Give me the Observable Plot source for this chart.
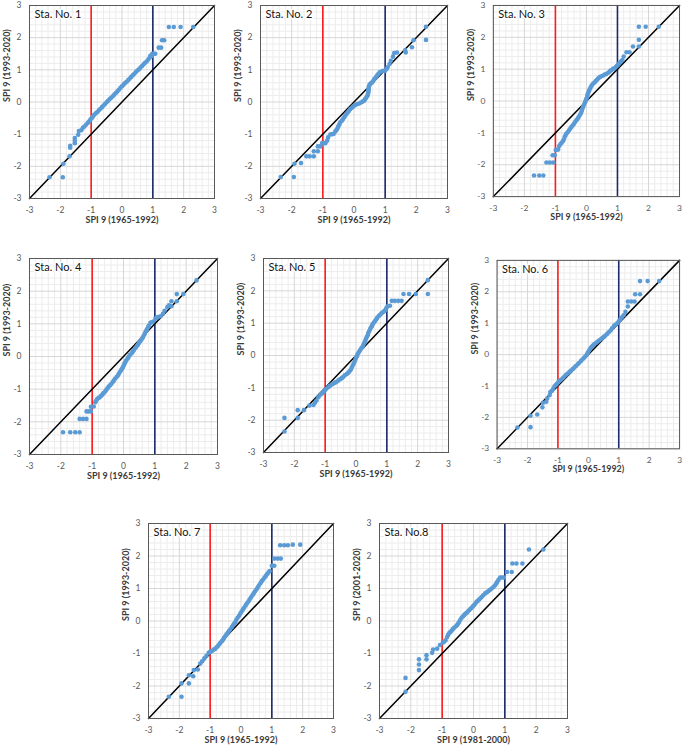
<!DOCTYPE html>
<html>
<head>
<meta charset="utf-8">
<script src="https://cdn.jsdelivr.net/npm/d3@7"></script>
<script src="https://cdn.jsdelivr.net/npm/@observablehq/plot@0.6"></script>
<style>
  html, body { margin: 0; padding: 0; background: #fff; }
  #page { position: relative; width: 685px; height: 748px; overflow: hidden; background: #fff; }
  .panel { position: absolute; }
</style>
</head>
<body>
<div id="page"></div>
<script>
// ---------- data ----------
const titles = ["Sta. No. 1", "Sta. No. 2", "Sta. No. 3", "Sta. No. 4", "Sta. No. 5", "Sta. No. 6", "Sta. No. 7", "Sta.\u00a0No.8"];
const xLabels = ["SPI 9 (1965-1992)", "SPI 9 (1965-1992)", "SPI 9 (1965-1992)", "SPI 9 (1965-1992)", "SPI 9 (1965-1992)", "SPI 9 (1965-1992)", "SPI 9 (1965-1992)", "SPI 9 (1981-2000)"];
const yLabels = ["SPI 9 (1993-2020)", "SPI 9 (1993-2020)", "SPI 9 (1993-2020)", "SPI 9 (1993-2020)", "SPI 9 (1993-2020)", "SPI 9 (1993-2020)", "SPI 9 (1993-2020)", "SPI 9 (2001-2020)"];
const majorTicks = [-3, -2, -1, 0, 1, 2, 3];
const minorTicks = [-2.8, -2.6, -2.4, -2.2, -1.8, -1.6, -1.4, -1.2, -0.8, -0.6, -0.4, -0.2, 0.2, 0.4, 0.6, 0.8, 1.2, 1.4, 1.6, 1.8, 2.2, 2.4, 2.6, 2.8];
const lowLine = [-1];
const highLine = [1];
const diagonal = [-3, 3];

const sta1 = [[-2.35,-2.34],[-1.92,-2.34],[-1.90,-1.92],[-1.70,-1.69],[-1.68,-1.42],[-1.68,-1.36],[-1.53,-1.28],[-1.53,-1.20],[-1.53,-1.12],[-1.42,-1.02],[-1.40,-0.90],[-1.32,-0.88],[-1.27,-0.80],[-1.22,-0.76],[-1.16,-0.70],[-1.10,-0.64],[-1.06,-0.60],[-1.02,-0.54],[-0.98,-0.50],[-0.95,-0.46],[-0.90,-0.40],[-0.85,-0.35],[-0.80,-0.31],[-0.75,-0.26],[-0.70,-0.21],[-0.65,-0.16],[-0.60,-0.11],[-0.55,-0.06],[-0.50,-0.01],[-0.45,0.04],[-0.40,0.09],[-0.35,0.13],[-0.30,0.18],[-0.25,0.23],[-0.20,0.28],[-0.15,0.33],[-0.10,0.38],[-0.05,0.44],[0.00,0.49],[0.05,0.54],[0.10,0.59],[0.15,0.63],[0.20,0.68],[0.25,0.73],[0.30,0.78],[0.35,0.83],[0.40,0.88],[0.45,0.93],[0.50,0.98],[0.55,1.02],[0.60,1.07],[0.65,1.12],[0.70,1.17],[0.75,1.22],[0.80,1.26],[0.85,1.32],[0.90,1.38],[0.92,1.44],[0.96,1.42],[0.98,1.50],[1.04,1.50],[1.08,1.50],[1.19,1.69],[1.27,1.69],[1.30,1.92],[1.37,1.92],[1.52,2.33],[1.68,2.33],[1.90,2.33],[2.31,2.33]];
const sta2 = [[-2.35,-2.33],[-1.93,-2.33],[-1.91,-1.92],[-1.70,-1.90],[-1.53,-1.69],[-1.42,-1.69],[-1.29,-1.69],[-1.29,-1.53],[-1.16,-1.53],[-1.16,-1.38],[-1.08,-1.38],[-1.02,-1.28],[-0.97,-1.28],[-0.92,-1.28],[-0.86,-1.20],[-0.83,-1.10],[-0.76,-1.01],[-0.70,-1.00],[-0.65,-0.99],[-0.60,-0.92],[-0.57,-0.88],[-0.54,-0.84],[-0.51,-0.78],[-0.49,-0.73],[-0.46,-0.68],[-0.44,-0.63],[-0.39,-0.58],[-0.35,-0.53],[-0.31,-0.47],[-0.28,-0.42],[-0.24,-0.37],[-0.20,-0.32],[-0.16,-0.27],[-0.12,-0.22],[-0.07,-0.18],[-0.03,-0.14],[0.02,-0.11],[0.07,-0.08],[0.12,-0.06],[0.18,-0.04],[0.24,-0.01],[0.29,0.02],[0.33,0.05],[0.36,0.09],[0.39,0.13],[0.42,0.18],[0.44,0.22],[0.45,0.25],[0.46,0.30],[0.46,0.35],[0.47,0.39],[0.47,0.43],[0.48,0.48],[0.50,0.54],[0.54,0.58],[0.58,0.61],[0.62,0.66],[0.65,0.71],[0.70,0.77],[0.74,0.82],[0.78,0.87],[0.82,0.92],[0.88,0.95],[0.93,0.97],[1.00,0.97],[1.05,1.03],[1.08,1.08],[1.14,1.18],[1.18,1.28],[1.25,1.41],[1.29,1.52],[1.38,1.54],[1.64,1.61],[1.66,1.54],[1.86,1.70],[1.91,1.92],[2.31,2.34],[2.31,1.93]];
const sta3 = [[-1.69,-2.34],[-1.52,-2.34],[-1.39,-2.34],[-1.29,-1.93],[-1.18,-1.93],[-1.07,-1.93],[-1.09,-1.70],[-1.02,-1.70],[-0.99,-1.54],[-0.95,-1.53],[-0.91,-1.52],[-0.88,-1.41],[-0.84,-1.36],[-0.80,-1.31],[-0.76,-1.26],[-0.73,-1.21],[-0.70,-1.12],[-0.67,-1.07],[-0.64,-1.02],[-0.60,-0.97],[-0.56,-0.92],[-0.52,-0.86],[-0.48,-0.81],[-0.44,-0.76],[-0.40,-0.71],[-0.36,-0.65],[-0.32,-0.60],[-0.28,-0.55],[-0.25,-0.50],[-0.21,-0.44],[-0.18,-0.38],[-0.15,-0.31],[-0.13,-0.24],[-0.11,-0.19],[-0.09,-0.14],[-0.06,-0.08],[-0.04,-0.03],[-0.02,0.02],[0.00,0.07],[0.02,0.12],[0.03,0.18],[0.05,0.24],[0.08,0.31],[0.10,0.36],[0.13,0.42],[0.16,0.47],[0.19,0.52],[0.23,0.56],[0.27,0.59],[0.30,0.63],[0.34,0.67],[0.38,0.71],[0.43,0.75],[0.48,0.78],[0.54,0.80],[0.59,0.83],[0.64,0.85],[0.70,0.89],[0.75,0.93],[0.80,0.97],[0.86,1.01],[0.90,1.03],[0.94,1.06],[0.98,1.10],[1.02,1.14],[1.05,1.18],[1.09,1.22],[1.12,1.25],[1.16,1.29],[1.20,1.40],[1.29,1.53],[1.39,1.53],[1.50,1.71],[1.69,1.71],[1.69,1.92],[1.69,2.33],[1.91,2.33],[2.33,2.33]];
const sta4 = [[-1.93,-2.32],[-1.70,-2.32],[-1.54,-2.32],[-1.40,-2.32],[-1.40,-1.91],[-1.29,-1.91],[-1.18,-1.91],[-1.18,-1.68],[-1.11,-1.68],[-1.04,-1.68],[-1.04,-1.54],[-0.95,-1.53],[-0.90,-1.40],[-0.87,-1.35],[-0.84,-1.30],[-0.80,-1.27],[-0.76,-1.25],[-0.72,-1.21],[-0.68,-1.17],[-0.65,-1.13],[-0.61,-1.10],[-0.57,-1.05],[-0.54,-1.01],[-0.50,-0.96],[-0.47,-0.92],[-0.43,-0.88],[-0.39,-0.84],[-0.35,-0.79],[-0.31,-0.74],[-0.27,-0.68],[-0.22,-0.63],[-0.18,-0.58],[-0.15,-0.53],[-0.11,-0.47],[-0.07,-0.41],[-0.04,-0.36],[-0.01,-0.31],[0.02,-0.25],[0.04,-0.20],[0.07,-0.15],[0.10,-0.10],[0.14,-0.05],[0.17,0.00],[0.21,0.05],[0.26,0.10],[0.30,0.15],[0.33,0.20],[0.38,0.26],[0.42,0.31],[0.46,0.36],[0.49,0.41],[0.53,0.46],[0.57,0.51],[0.60,0.56],[0.63,0.61],[0.67,0.68],[0.70,0.75],[0.73,0.80],[0.76,0.85],[0.79,0.90],[0.81,0.95],[0.86,1.03],[0.90,1.05],[0.95,1.07],[1.02,1.16],[1.06,1.18],[1.10,1.21],[1.18,1.23],[1.26,1.31],[1.31,1.40],[1.40,1.51],[1.45,1.57],[1.53,1.54],[1.53,1.69],[1.70,1.69],[1.70,1.91],[1.91,1.91],[2.33,2.33]];
const sta5 = [[-2.32,-2.35],[-2.32,-1.93],[-1.89,-1.93],[-1.89,-1.69],[-1.69,-1.69],[-1.51,-1.55],[-1.38,-1.53],[-1.33,-1.46],[-1.28,-1.39],[-1.22,-1.29],[-1.15,-1.21],[-1.10,-1.17],[-1.06,-1.13],[-1.01,-1.08],[-0.97,-1.03],[-0.90,-0.98],[-0.85,-0.94],[-0.79,-0.90],[-0.74,-0.87],[-0.68,-0.84],[-0.63,-0.81],[-0.57,-0.77],[-0.51,-0.73],[-0.46,-0.70],[-0.41,-0.66],[-0.36,-0.61],[-0.30,-0.57],[-0.25,-0.53],[-0.21,-0.49],[-0.17,-0.44],[-0.14,-0.38],[-0.11,-0.32],[-0.08,-0.26],[-0.05,-0.20],[-0.02,-0.13],[0.00,-0.07],[0.03,-0.02],[0.05,0.04],[0.09,0.10],[0.13,0.16],[0.17,0.22],[0.21,0.27],[0.24,0.33],[0.27,0.39],[0.30,0.45],[0.32,0.51],[0.35,0.57],[0.38,0.63],[0.40,0.70],[0.43,0.76],[0.46,0.82],[0.49,0.87],[0.52,0.92],[0.54,0.97],[0.58,1.02],[0.62,1.07],[0.66,1.12],[0.69,1.17],[0.74,1.22],[0.78,1.26],[0.82,1.30],[0.86,1.33],[0.90,1.36],[0.94,1.39],[0.98,1.46],[1.02,1.52],[1.10,1.54],[1.16,1.69],[1.26,1.69],[1.37,1.69],[1.48,1.69],[1.54,1.90],[1.72,1.90],[1.94,1.90],[2.33,1.90],[2.33,2.33]];
const sta6 = [[-2.33,-2.32],[-1.90,-2.31],[-1.90,-1.95],[-1.68,-1.91],[-1.51,-1.68],[-1.49,-1.53],[-1.38,-1.50],[-1.35,-1.40],[-1.27,-1.29],[-1.25,-1.19],[-1.20,-1.15],[-1.16,-1.10],[-1.11,-1.01],[-1.07,-0.97],[-1.03,-0.93],[-0.99,-0.88],[-0.95,-0.84],[-0.90,-0.80],[-0.84,-0.75],[-0.79,-0.70],[-0.73,-0.64],[-0.68,-0.60],[-0.62,-0.55],[-0.57,-0.51],[-0.51,-0.46],[-0.46,-0.41],[-0.41,-0.36],[-0.35,-0.31],[-0.30,-0.26],[-0.24,-0.20],[-0.19,-0.15],[-0.14,-0.10],[-0.10,-0.06],[-0.06,-0.01],[-0.03,0.04],[0.00,0.09],[0.03,0.14],[0.07,0.20],[0.11,0.25],[0.15,0.29],[0.19,0.33],[0.25,0.37],[0.30,0.41],[0.35,0.45],[0.41,0.49],[0.46,0.53],[0.51,0.57],[0.56,0.61],[0.62,0.66],[0.67,0.71],[0.73,0.77],[0.78,0.84],[0.84,0.91],[0.89,0.95],[0.95,1.00],[1.00,1.06],[1.05,1.12],[1.10,1.18],[1.16,1.25],[1.22,1.36],[1.30,1.53],[1.30,1.69],[1.41,1.69],[1.52,1.69],[1.54,1.92],[1.70,1.92],[1.70,2.34],[1.95,2.34],[2.33,2.34]];
const sta7 = [[-2.34,-2.33],[-1.93,-2.33],[-1.93,-1.92],[-1.69,-1.92],[-1.69,-1.67],[-1.55,-1.70],[-1.53,-1.51],[-1.40,-1.49],[-1.32,-1.31],[-1.26,-1.24],[-1.19,-1.15],[-1.12,-1.07],[-1.05,-0.98],[-1.00,-0.95],[-0.94,-0.92],[-0.88,-0.88],[-0.83,-0.85],[-0.78,-0.80],[-0.74,-0.76],[-0.70,-0.71],[-0.67,-0.67],[-0.62,-0.62],[-0.58,-0.57],[-0.55,-0.52],[-0.51,-0.47],[-0.47,-0.41],[-0.43,-0.36],[-0.39,-0.31],[-0.35,-0.26],[-0.30,-0.19],[-0.26,-0.13],[-0.22,-0.08],[-0.18,-0.03],[-0.15,0.04],[-0.11,0.10],[-0.06,0.16],[-0.02,0.23],[0.02,0.29],[0.06,0.35],[0.10,0.41],[0.15,0.48],[0.19,0.54],[0.24,0.60],[0.28,0.66],[0.32,0.72],[0.37,0.79],[0.41,0.85],[0.45,0.91],[0.50,0.97],[0.54,1.03],[0.58,1.09],[0.63,1.16],[0.67,1.22],[0.71,1.27],[0.76,1.33],[0.80,1.38],[0.84,1.44],[0.89,1.49],[0.93,1.54],[1.00,1.70],[1.08,1.70],[1.08,1.92],[1.19,1.92],[1.29,1.92],[1.27,2.33],[1.40,2.33],[1.52,2.33],[1.68,2.35],[1.92,2.35]];
const sta8 = [[-2.17,-2.18],[-2.17,-1.75],[-1.74,-1.51],[-1.74,-1.34],[-1.74,-1.18],[-1.50,-1.18],[-1.50,-1.05],[-1.32,-0.98],[-1.29,-0.88],[-1.16,-0.85],[-1.07,-0.74],[-0.98,-0.67],[-0.93,-0.63],[-0.89,-0.59],[-0.84,-0.49],[-0.81,-0.43],[-0.78,-0.38],[-0.74,-0.34],[-0.70,-0.30],[-0.66,-0.25],[-0.62,-0.21],[-0.57,-0.17],[-0.53,-0.13],[-0.49,-0.08],[-0.46,-0.03],[-0.42,0.04],[-0.38,0.10],[-0.34,0.14],[-0.30,0.18],[-0.26,0.22],[-0.22,0.25],[-0.18,0.29],[-0.14,0.33],[-0.10,0.37],[-0.06,0.41],[-0.02,0.45],[0.02,0.49],[0.06,0.54],[0.10,0.59],[0.14,0.62],[0.18,0.66],[0.22,0.70],[0.26,0.74],[0.31,0.79],[0.37,0.85],[0.42,0.88],[0.48,0.92],[0.53,0.96],[0.58,1.00],[0.64,1.05],[0.69,1.10],[0.73,1.16],[0.76,1.21],[0.80,1.27],[0.85,1.34],[0.91,1.34],[0.97,1.34],[1.07,1.51],[1.22,1.51],[1.24,1.77],[1.37,1.77],[1.56,1.77],[1.77,2.20],[2.23,2.20]];
const stations = [sta1, sta2, sta3, sta4, sta5, sta6, sta7, sta8];

// ---------- layout (plot-frame edges in page pixels) ----------
const frames = [
  {left: 29,  right: 214, top: 5,   bottom: 198},
  {left: 260, right: 447, top: 5,   bottom: 198},
  {left: 493, right: 680, top: 5,   bottom: 197},
  {left: 29,  right: 217, top: 258, bottom: 454},
  {left: 263, right: 448, top: 258, bottom: 452},
  {left: 497, right: 682, top: 260, bottom: 451},
  {left: 148, right: 333, top: 523, bottom: 718},
  {left: 379, right: 567, top: 523, bottom: 718}
];
const ML = 32, MT = 8, MR = 6, MB = 34;
const FONT = "Lato, 'Liberation Sans', sans-serif";
const fmt = d => String(d);

const page = document.getElementById("page");
stations.forEach((data, i) => {
  const f = frames[i];
  const width = f.right - f.left + ML + MR;
  const height = f.bottom - f.top + MT + MB;
  const chart = Plot.plot({
    width, height,
    marginLeft: ML, marginTop: MT, marginRight: MR, marginBottom: MB,
    style: {fontFamily: FONT, background: "transparent", overflow: "visible"},
    x: {domain: [-3, 3], label: null},
    y: {domain: [-3, 3], label: null},
    marks: [
      Plot.gridX(minorTicks, {stroke: "#ececec", strokeOpacity: 1}),
      Plot.gridY(minorTicks, {stroke: "#ececec", strokeOpacity: 1}),
      Plot.gridX(majorTicks, {stroke: "#d6d6d6", strokeOpacity: 1}),
      Plot.gridY(majorTicks, {stroke: "#d6d6d6", strokeOpacity: 1}),
      Plot.ruleX(lowLine, {stroke: "#ff1a1a", strokeWidth: 1.6}),
      Plot.ruleX(highLine, {stroke: "#1b2a6b", strokeWidth: 1.6}),
      Plot.line(diagonal.map(v => [v, v]), {x: d => d[0], y: d => d[1], stroke: "#000", strokeWidth: 1.5}),
      Plot.dot(data, {x: d => d[0], y: d => d[1], r: 2.3, fill: "#5b9bd5", stroke: "none"}),
      Plot.frame({stroke: "#595959", strokeWidth: 1}),
      Plot.axisX(majorTicks, {tickSize: 0, tickPadding: 8, tickFormat: fmt, fontSize: 8.5, fill: "#595959", label: null}),
      Plot.axisY(majorTicks, {tickSize: 0, tickPadding: 8, tickFormat: fmt, fontSize: 8.5, fill: "#595959", label: null}),
      Plot.text([xLabels[i]], {text: d => d, frameAnchor: "bottom", dy: 24, fontSize: 9, fontWeight: "bold", fill: "#3a3a3a"}),
      Plot.text([yLabels[i]], {text: d => d, frameAnchor: "left", dx: -22, rotate: -90, fontSize: 9, fontWeight: "bold", fill: "#3a3a3a"}),
      Plot.text([titles[i]], {text: d => d, frameAnchor: "top-left", dx: 5, dy: 5, textAnchor: "start", lineAnchor: "top", fontSize: 11, fill: "#111", stroke: "white", strokeWidth: 3, paintOrder: "stroke"})
    ]
  });
  const div = document.createElement("div");
  div.className = "panel";
  div.style.left = (f.left - ML) + "px";
  div.style.top = (f.top - MT) + "px";
  div.appendChild(chart);
  page.appendChild(div);
});
</script>
</body>
</html>
